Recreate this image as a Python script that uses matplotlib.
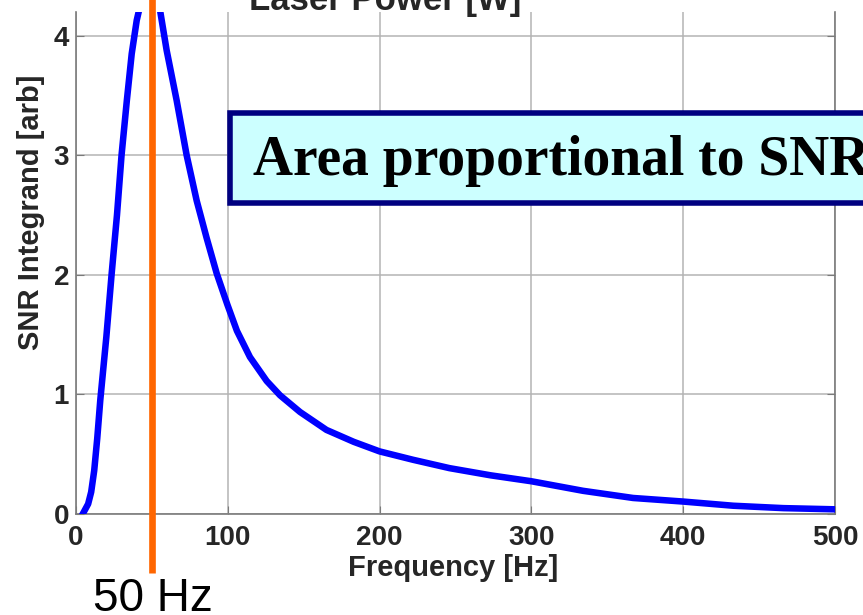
import matplotlib.pyplot as plt
from matplotlib.patches import Rectangle

# curve
freq = [4.6, 8, 10, 12, 14, 16, 20, 23.5, 27, 30, 33.5, 36.7, 40, 42, 45, 48, 50, 52, 55.3, 59.7,
        66.3, 72.9, 79.5, 86, 92.7, 99.7, 106, 114.6, 125.6, 134.4, 147.6, 165, 183, 200, 222,
        246, 273, 300, 334, 367, 400, 433, 466, 500]
snr = [0.0, 0.08, 0.18, 0.36, 0.63, 0.95, 1.48, 2.01, 2.5, 3.0, 3.46, 3.85, 4.13, 4.24, 4.42, 4.6,
       4.63, 4.5, 4.22, 3.88, 3.46, 3.0, 2.62, 2.31, 2.01, 1.75, 1.53, 1.31, 1.11, 0.99, 0.85,
       0.70, 0.60, 0.52, 0.45, 0.38, 0.32, 0.27, 0.19, 0.13, 0.10, 0.065, 0.045, 0.035]
mark_freq = 50
xticks = [0, 100, 200, 300, 400, 500]
yticks = [0, 1, 2, 3, 4]

W, H = 863, 615
plt.rcParams['font.family'] = ['Liberation Sans', 'DejaVu Sans']
fig = plt.figure(figsize=(W / 100, H / 100), dpi=100)
ax = fig.add_axes([76 / W, 1 - 513.5 / H, 759 / W, 501.5 / H])

ax.plot(freq, snr, color='#0000ff', lw=4.7, zorder=3)
ax.plot([mark_freq, mark_freq], [-0.5, 4.4], color='#ff6600', lw=4.8, clip_on=False, zorder=4,
        solid_capstyle='butt')

ax.set_xlim(0, 500)
ax.set_ylim(0, 4.2)
ax.set_xticks(xticks)
ax.set_yticks(yticks)
ax.grid(True, color='#b4b4b4', lw=1.1)
ax.set_axisbelow(True)
for s in ['left', 'bottom', 'right']:
    ax.spines[s].set_color('#7a7a7a')
    ax.spines[s].set_linewidth(1.2)
ax.spines['top'].set_visible(False)
ax.tick_params(direction='in', length=6, color='#7a7a7a', right=True, top=False,
               labelsize=20, labelcolor='#262626')
ax.tick_params(axis='x', pad=8)
ax.tick_params(axis='y', pad=5)
for lab in ax.get_xticklabels() + ax.get_yticklabels():
    lab.set_fontweight('bold')

# axis labels, placed where they sit in the reference
fig.text(453 / W, 1 - 568 / H, 'Frequency [Hz]', ha='center', va='center',
         fontsize=21, fontweight='bold', color='#262626')
fig.text(31 / W, 1 - 212 / H, 'SNR Integrand [arb]', ha='center', va='center', rotation=90,
         fontsize=21, fontweight='bold', color='#262626')
fig.text(385 / W, 1 - 10 / H, 'Laser Power [W]', ha='center', va='baseline',
         fontsize=25, fontweight='bold', color='#262626')

fig.text(93 / W, 1 - 611 / H, '50 Hz', ha='left', va='baseline', fontsize=33, color='black')

# annotation box running off the right edge
box = Rectangle((229.5 / W, 1 - 202.5 / H), 700 / W, 90 / H, transform=fig.transFigure,
                facecolor='#ccffff', edgecolor='#000080', lw=4, zorder=5)
fig.add_artist(box)
fig.text(253 / W, 1 - 175 / H, 'Area proportional to SNR', ha='left', va='baseline',
         fontsize=40, fontweight='bold', family='Liberation Serif', color='black', zorder=6)

fig.savefig('out.png', dpi=100)
